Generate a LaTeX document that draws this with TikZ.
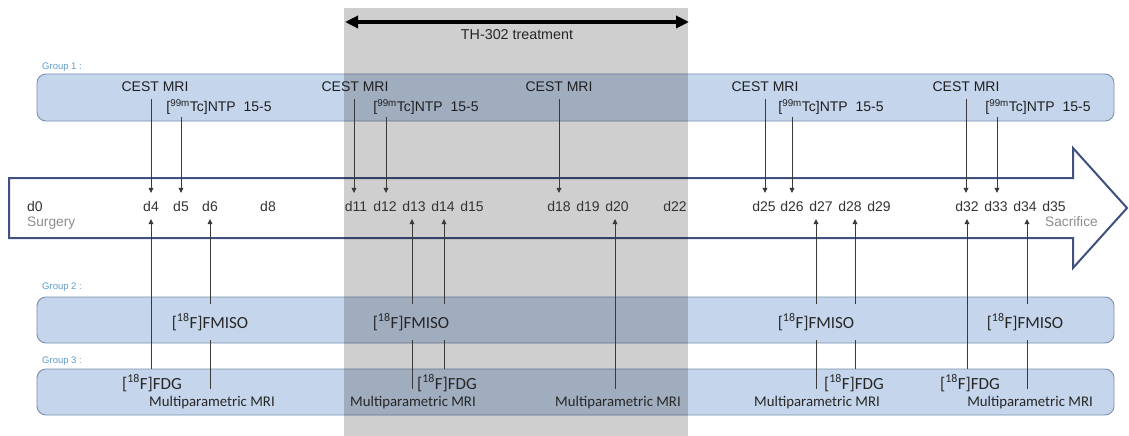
\documentclass[tikz,border=0pt]{standalone}
\usepackage{fontspec}
\setmainfont{Liberation Sans}
\newfontfamily\calfont{Carlito}
\usetikzlibrary{arrows.meta}
\definecolor{boxfill}{HTML}{C5D6EC}
\definecolor{boxdraw}{HTML}{7B90B0}
\definecolor{arrowdraw}{HTML}{405080}
\definecolor{groupcol}{HTML}{5A9BD0}
\definecolor{daytext}{HTML}{333333}
\definecolor{labgray}{HTML}{8C8C8C}
\definecolor{conncol}{HTML}{3A3A3A}
\tikzset{
  grpbox/.style={fill=boxfill, draw=boxdraw, line width=0.9pt, rounded corners=9pt},
  grplabel/.style={anchor=west, text=groupcol, font=\fontsize{9.5}{10}\selectfont, inner sep=0pt},
  cest/.style={font=\fontsize{14}{15}\selectfont, text=black!88, inner sep=0pt, minimum height=24pt},
  ntp/.style={font=\fontsize{14}{15}\selectfont, text=black!88, inner sep=0pt, minimum height=20pt},
  day/.style={font=\fontsize{14}{15}\selectfont, text=daytext, inner sep=0pt, minimum height=26pt},
  endlab/.style={font=\fontsize{13.7}{15}\selectfont, text=labgray, inner sep=0pt},
  fmiso/.style={font=\calfont\fontsize{17}{18}\selectfont, text=black!85, inner sep=0pt, minimum height=36pt},
  fdg/.style={font=\calfont\fontsize{17}{18}\selectfont, text=black!85, inner sep=0pt, minimum height=28pt},
  mri/.style={font=\calfont\fontsize{14.8}{16}\selectfont, text=black!85, inner sep=0pt, minimum height=28pt},
  down/.style={draw=conncol, line width=0.7pt, -{Triangle[length=5pt,width=5pt]}},
  plain/.style={draw=conncol, line width=0.7pt},
}
\newcommand{\ntptext}{[\textsuperscript{99m}Tc]NTP\ \ 15-5}
\newcommand{\fms}{[\textsuperscript{18}F]FMISO}
\newcommand{\fdgt}{[\textsuperscript{18}F]FDG}
\begin{document}
\begin{tikzpicture}[x=1pt,y=-1pt]
\useasboundingbox (0,0) rectangle (1129,436);
\fill[white] (0,0) rectangle (1129,436);
% timeline arrow
\draw[arrowdraw, line width=2pt, fill=white, line join=miter]
  (9,178) -- (1073,178) -- (1073,148) -- (1127,208) -- (1073,268) -- (1073,238) -- (9,238) -- cycle;
% group boxes
\draw[grpbox] (37,74) rectangle (1114,121);
\draw[grpbox] (37,297) rectangle (1114,343);
\draw[grpbox] (37,369) rectangle (1114,415);
% treatment overlay
\fill[black, opacity=0.19] (344,8) rectangle (688,436);
% treatment arrow
\coordinate (tl) at (345,22);
\coordinate (tr) at (689,22);
\draw[line width=3.2pt, {Triangle[length=13pt,width=12pt]}-{Triangle[length=13pt,width=12pt]}] (tl) -- (tr);
\node[font=\fontsize{14.3}{15}\selectfont, text=black!85, inner sep=0pt] (treat) at (517,35) {TH-302 treatment};
% group labels
\node[grplabel] (g1) at (42,67) {Group 1 :};
\node[grplabel] (g2) at (42,287) {Group 2 :};
\node[grplabel] (g3) at (42,361) {Group 3 :};
% group 1 texts
\node[cest] (c1) at (155,87) {CEST MRI};
\node[cest] (c2) at (355,87) {CEST MRI};
\node[cest] (c3) at (559,87) {CEST MRI};
\node[cest] (c4) at (765,87) {CEST MRI};
\node[cest] (c5) at (966,87) {CEST MRI};
\node[ntp] (n1) at (219,107) {\ntptext};
\node[ntp] (n2) at (426,107) {\ntptext};
\node[ntp] (n4) at (831,107) {\ntptext};
\node[ntp] (n5) at (1038,107) {\ntptext};
% days
\node[day] (d0) at (35,206) {d0};
\node[day] (d4) at (151,206) {d4};
\node[day] (d5) at (181,206) {d5};
\node[day] (d6) at (210,206) {d6};
\node[day] (d8) at (268,206) {d8};
\node[day] (d11) at (356,206) {d11};
\node[day] (d12) at (385,206) {d12};
\node[day] (d13) at (414,206) {d13};
\node[day] (d14) at (443,206) {d14};
\node[day] (d15) at (472,206) {d15};
\node[day] (d18) at (559,206) {d18};
\node[day] (d19) at (588,206) {d19};
\node[day] (d20) at (617,206) {d20};
\node[day] (d22) at (675,206) {d22};
\node[day] (d25) at (764,206) {d25};
\node[day] (d26) at (792,206) {d26};
\node[day] (d27) at (821,206) {d27};
\node[day] (d28) at (850,206) {d28};
\node[day] (d29) at (879,206) {d29};
\node[day] (d32) at (967,206) {d32};
\node[day] (d33) at (996,206) {d33};
\node[day] (d34) at (1025,206) {d34};
\node[day] (d35) at (1054,206) {d35};
\node[endlab, anchor=west] (surg) at (27,223) {Surgery};
\node[endlab, anchor=west] (sacr) at (1045,222) {Sacrifice};
% group 2
\node[fmiso] (f1) at (210,322) {\fms};
\node[fmiso] (f2) at (411,322) {\fms};
\node[fmiso] (f3) at (816,322) {\fms};
\node[fmiso] (f4) at (1025,322) {\fms};
% group 3
\node[fdg] (g1a) at (152,383) {\fdgt};
\node[fdg] (g2a) at (447,383) {\fdgt};
\node[fdg] (g4a) at (854,383) {\fdgt};
\node[fdg] (g5a) at (970,383) {\fdgt};
\node[mri] (m1) at (212,403) {Multiparametric MRI};
\node[mri] (m2) at (413,403) {Multiparametric MRI};
\node[mri] (m3) at (618,403) {Multiparametric MRI};
\node[mri] (m4) at (817,403) {Multiparametric MRI};
\node[mri] (m5) at (1030,403) {Multiparametric MRI};
% down connectors (group 1)
\draw[down] (c1.south -| 151,0) -- (d4.north -| 151,0);
\draw[down] (n1.south -| 181,0) -- (d5.north -| 181,0);
\draw[down] (c2.south -| 354,0) -- (d11.north -| 354,0);
\draw[down] (n2.south -| 386,0) -- (d12.north -| 386,0);
\draw[down] (c3.south -| 559,0) -- (d18.north -| 559,0);
\draw[down] (c4.south -| 765,0) -- (d25.north -| 765,0);
\draw[down] (n4.south -| 792,0) -- (d26.north -| 792,0);
\draw[down] (c5.south -| 966,0) -- (d32.north -| 966,0);
\draw[down] (n5.south -| 997,0) -- (d33.north -| 997,0);
% up connectors (groups 2 and 3)
\draw[down] (g1a.north -| 151,0) -- (d4.south -| 151,0);
\draw[down] (f1.north -| 210,0) -- (d6.south -| 210,0);
\draw[plain] (m1.north -| 210,0) -- (f1.south -| 210,0);
\draw[down] (f2.north -| 412,0) -- (d13.south -| 412,0);
\draw[plain] (m2.north -| 412,0) -- (f2.south -| 412,0);
\draw[down] (f2.north -| 444,0) -- (d14.south -| 444,0);
\draw[plain] (g2a.north -| 444,0) -- (f2.south -| 444,0);
\draw[down] (m3.north -| 615,0) -- (d20.south -| 615,0);
\draw[down] (f3.north -| 816,0) -- (d27.south -| 816,0);
\draw[plain] (m4.north -| 816,0) -- (f3.south -| 816,0);
\draw[down] (f3.north -| 855,0) -- (d28.south -| 855,0);
\draw[plain] (g4a.north -| 855,0) -- (f3.south -| 855,0);
\draw[down] (g5a.north -| 967,0) -- (d32.south -| 967,0);
\draw[down] (f4.north -| 1027,0) -- (d34.south -| 1027,0);
\draw[plain] (m5.north -| 1027,0) -- (f4.south -| 1027,0);
\end{tikzpicture}
\end{document}
